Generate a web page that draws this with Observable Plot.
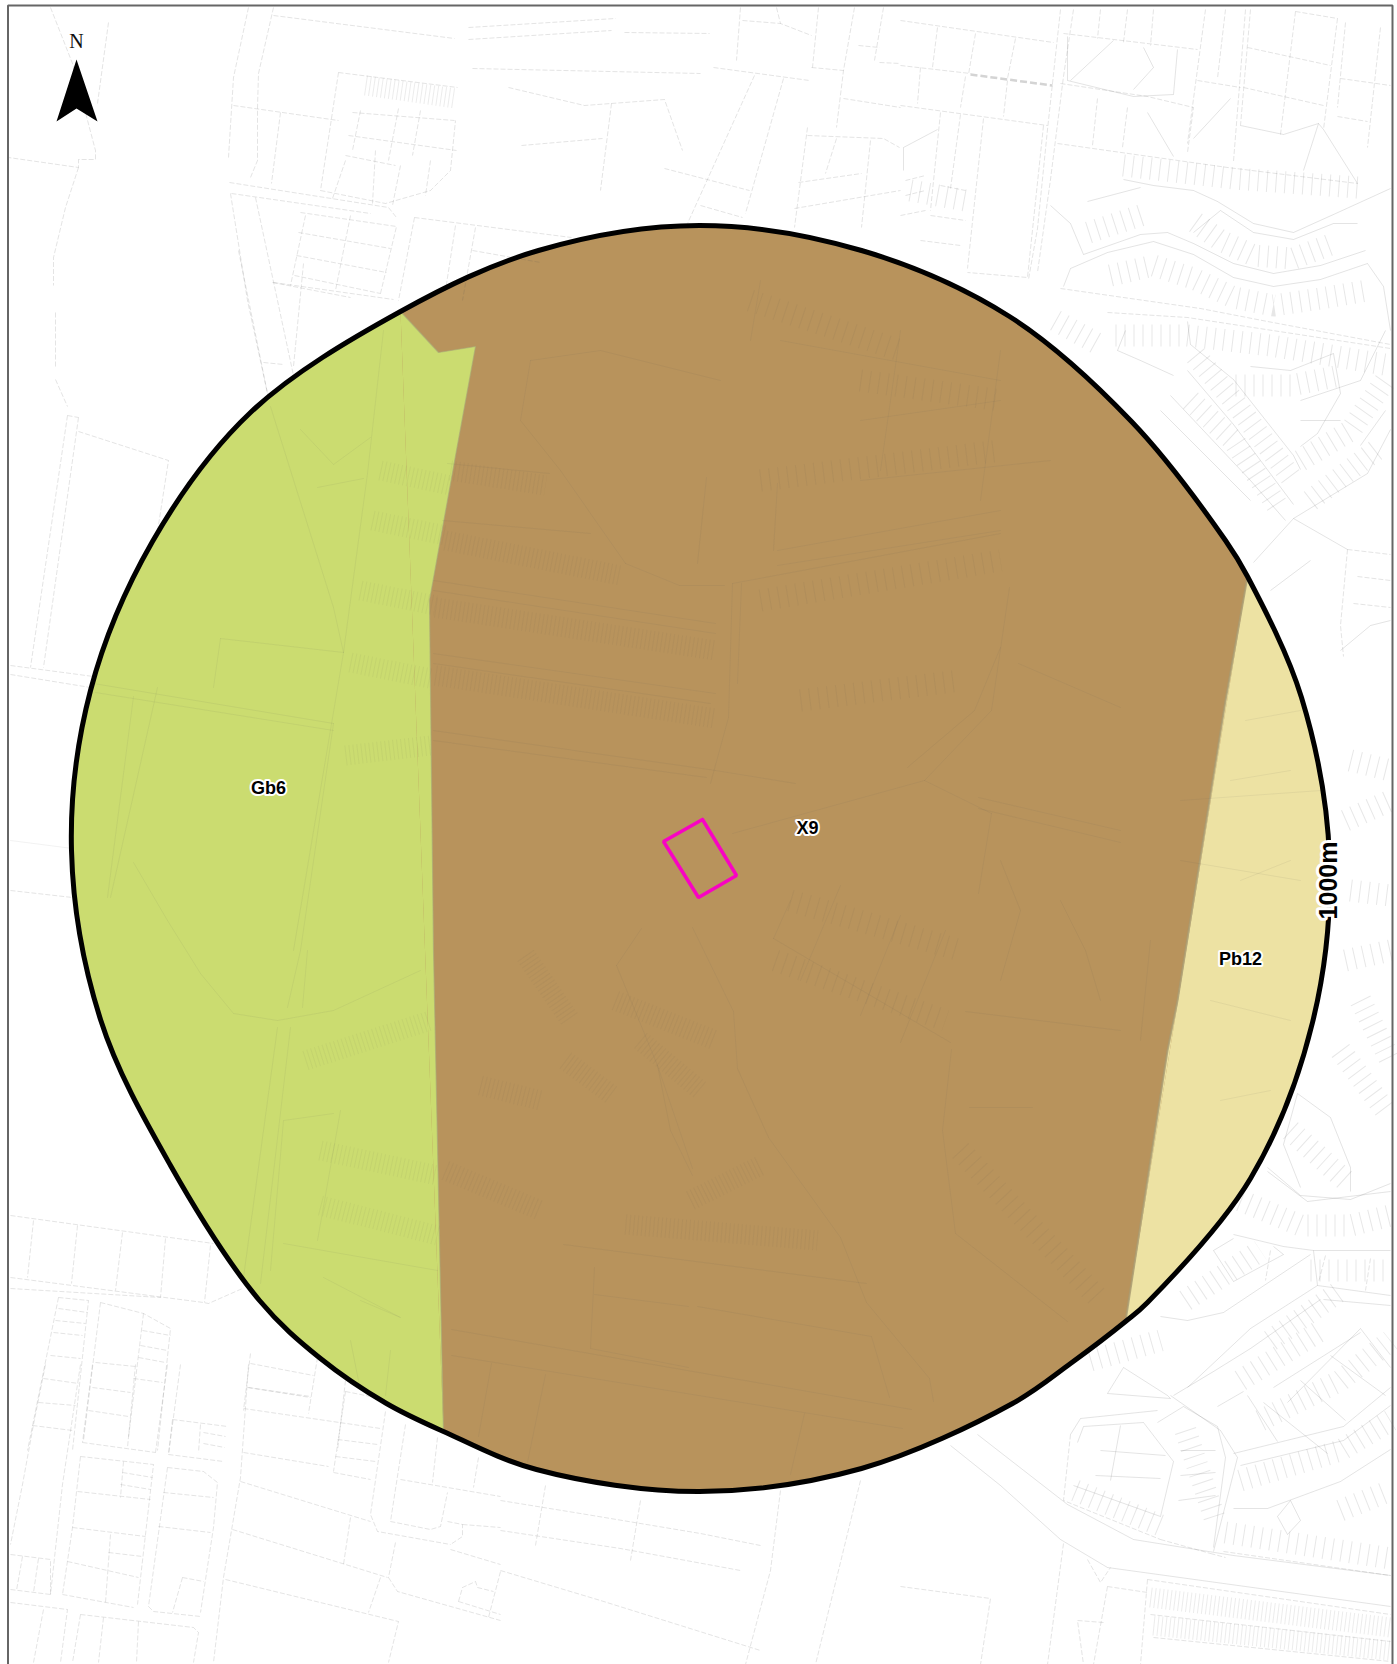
<!DOCTYPE html>
<html><head><meta charset="utf-8">
<script src="https://cdn.jsdelivr.net/npm/d3@7"></script>
<script src="https://cdn.jsdelivr.net/npm/@observablehq/plot@0.6"></script>
<style>html,body{margin:0;padding:0;background:#fff}svg{display:block;max-width:none}</style>
</head><body><div id="chart"></div>
<script>
// Radius ring, read clockwise from the top
const ring=[[699,225],[861,250],[1009,316],[1131,421],[1225,540],[1247,576],[1301,697],[1329,858],[1312,1022],[1250,1178],[1147,1302],[1125,1321],[1070,1363],[1012,1403],[861,1468],[699,1491],[536,1469],[443,1431],[386,1403],[320,1358],[259,1300],[170,1165],[100,1019],[71,850],[90,690],[152,541],[250,412],[400,311],[538,250]];
const arcGb6=[[443,1431],[386,1403],[320,1358],[259,1300],[170,1165],[100,1019],[71,850],[90,690],[152,541],[250,412],[400,311]];
const edgeGb6=[[400,311],[438,352],[475,346],[456,450],[429,600],[433,950],[443,1431]];
const arcPb12=[[1247,576],[1301,697],[1329,858],[1312,1022],[1250,1178],[1147,1302],[1125,1321]];
const edgePb12=[[1247,576],[1225,700],[1177,1000],[1167,1050],[1125,1321]];
const site=[[702,819],[663,841],[698,897],[736,875],[702,819]];
const northArrow=[[76,59],[97,121],[76,108],[56,121]];
const frameLines=[[[7.5,1664],[7.5,5],[1392,5],[1392,1664]]];
const zoneLabels=[{t:"Gb6",x:268,y:788},{t:"X9",x:807,y:828},{t:"Pb12",x:1240,y:959}];
const ringLabel=[{t:"1000m",x:1328,y:880}];
const northLabel=[{t:"N",x:76,y:41}];
const thickPath=[[[970,74],[1052,85]]];

// Road and parcel lines, dashed cadastre
const dashedNW=[
[[50,7],[72,63],[95,150],[95,159],[78,159],[78,167],[8,157]],[[78,167],[65,207],[53,257],[53,285]],[[108,22],[97,103]],
[[248,7],[233,77],[228,157]],[[273,7],[258,73],[257,107],[257,160],[250,177]],[[273,15],[454,38]],[[233,105],[338,120]],[[280,112],[271,183]],
[[229,182],[388,207],[396,217]],[[231,193],[370,213]],[[230,193],[247,300],[267,393]],[[255,197],[277,300],[293,375]],[[273,282],[393,299]],
[[468,27],[615,18]],[[468,39],[611,30]],[[624,32],[709,33]],[[472,68],[700,73]],[[713,67],[809,80]],[[508,87],[584,105],[664,99],[682,150]],[[611,103],[600,190]],[[521,145],[602,138]],
[[414,217],[571,237]],[[754,75],[687,223]],[[783,78],[745,213]],[[664,168],[749,190]],[[700,205],[742,217]],[[740,7],[736,60]],[[776,7],[780,23],[811,35]],[[818,7],[812,67]],[[742,20],[780,23]],
[[854,7],[843,70],[836,127]],[[811,67],[843,70]],[[883,7],[874,60]],[[858,45],[879,47]],[[879,62],[900,63]],[[843,98],[900,107]],[[807,127],[794,227]],[[807,135],[883,138],[899,147]],[[870,140],[861,227]],[[836,138],[825,173]],[[798,182],[861,173]],[[794,208],[900,190]],
[[338,72],[457,87]],[[338,72],[320,190]],[[352,112],[454,120]],[[348,135],[456,150]],[[345,155],[395,165]],[[398,108],[388,160]],[[360,110],[352,150]],[[420,110],[412,155]],[[320,190],[385,203],[430,190],[450,170],[455,120]],[[345,160],[332,198]],[[375,150],[372,203]],[[400,165],[392,205]],[[430,160],[425,195]],
[[300,212],[396,226],[380,293]],[[298,232],[390,248]],[[296,255],[386,272]],[[294,275],[380,293]],[[305,215],[290,285]],[[350,215],[335,290]],[[272,282],[350,297]],
[[414,217],[398,300]],[[455,225],[445,290]],[[475,227],[462,300]],[[472,250],[540,262]],
[[55,312],[55,366]],[[55,379],[67,406]],[[67,415],[30,667]],[[78,417],[43,667]],[[67,415],[78,417]],[[78,431],[168,460],[157,531]],[[10,665],[93,676]],[[10,674],[90,687]],[[10,890],[72,897]],
[[238,250],[267,393]],[[303,263],[293,366]],[[263,362],[283,364]]];
const dashedNE=[
[[900,20],[1053,42]],[[900,65],[970,73]],[[937,27],[932,67]],[[975,33],[968,74]],[[1015,38],[1007,78]],[[920,67],[917,103]],[[965,76],[960,107]],[[1007,80],[1003,116]],[[900,105],[1047,125]],
[[940,112],[930,210]],[[960,114],[950,188]],[[983,118],[967,268]],[[1043,125],[1027,277],[967,272]],
[[1060,9],[1047,129],[1037,228],[1028,279]],[[1073,9],[1063,76],[1050,179],[1037,272]],
[[1063,33],[1197,49]],[[1100,9],[1097,38]],[[1127,9],[1123,42]],[[1153,9],[1150,45]],[[1205,9],[1187,143]],[[1225,9],[1217,78]],[[1245,9],[1233,161]],[[1250,9],[1240,125]],[[1197,80],[1240,87]],[[1295,11],[1337,18]],[[1247,47],[1330,65]],[[1243,87],[1323,105]],[[1295,11],[1280,134]],[[1337,18],[1323,129]],[[1345,22],[1337,107]],[[1380,27],[1367,147]],[[1340,78],[1390,85]],[[1337,116],[1367,121]],
[[1060,83],[1147,96],[1193,107],[1187,152]],[[1057,143],[1227,167],[1357,183]],[[1097,98],[1092,145]],[[1127,107],[1122,147]],
[[1060,288],[1200,308],[1267,321],[1390,344]],[[1107,312],[1187,317],[1390,348]],[[1347,549],[1390,554]],[[1357,576],[1390,580]],[[1353,603],[1390,607]],[[1347,549],[1340,625],[1343,656]],
[[905,180],[925,175]],[[905,195],[925,190]],[[900,215],[925,210]],[[940,185],[965,190]],[[930,215],[965,220]],[[920,240],[960,245]]];
const solidNE=[
[[1067,36],[1067,80],[1133,96],[1173,94],[1177,49]],[[1113,40],[1070,80]],[[1143,47],[1153,67],[1133,89]],[[937,129],[903,147],[903,170]],[[1147,112],[1173,156]],[[1193,138],[1230,98]],
[[1240,125],[1283,134],[1318,123],[1323,129],[1357,183]],[[1318,123],[1303,170]],
[[1123,179],[1153,185],[1193,190],[1217,201],[1253,223],[1293,232],[1333,214],[1390,188]],[[1050,205],[1070,223],[1083,254]],[[1087,201],[1140,187]],
[[1063,286],[1070,268],[1107,252],[1153,241],[1193,254],[1233,277],[1273,286],[1320,279],[1367,263],[1383,286],[1390,330]],
[[1083,254],[1140,234],[1167,232],[1193,243],[1233,263],[1273,273],[1320,265],[1365,250]],
[[1193,232],[1220,210],[1253,232],[1293,239],[1333,223],[1357,223]],
[[1187,321],[1190,344],[1233,379],[1293,455],[1300,469]],[[1187,370],[1233,424],[1293,504]],
[[1250,366],[1290,370],[1333,353],[1340,393],[1317,433],[1300,446]],[[1293,518],[1367,473],[1390,429]],[[1293,518],[1253,562]],[[1293,518],[1347,549]],
[[1125,330],[1117,350],[1140,360],[1173,375]],[[1160,410],[1220,470],[1250,500]],[[1170,395],[1250,480],[1285,520]],[[1300,400],[1360,380],[1385,330]],[[1360,445],[1385,410]],[[1300,420],[1340,420]],
[[1270,590],[1310,560]],[[1340,650],[1370,625],[1390,620]]];
const dashedSW=[
[[10,1215],[213,1243]],[[10,1277],[203,1302],[208,1303],[242,1288]],[[10,1288],[160,1297]],[[33,1220],[27,1277]],[[77,1225],[71,1283]],[[122,1232],[115,1290]],[[165,1238],[160,1297]],[[210,1245],[204,1302]],
[[58,1297],[88,1300],[72,1450]],[[58,1297],[27,1450]],[[58,1308],[87,1312]],[[55,1320],[85,1323]],[[53,1332],[82,1335]],[[50,1355],[80,1358]],[[43,1378],[78,1383]],[[38,1402],[75,1405]],[[32,1425],[72,1430]],
[[100,1302],[83,1440]],[[100,1302],[143,1313],[170,1328],[157,1450]],[[143,1313],[128,1437]],[[95,1362],[135,1366]],[[92,1387],[130,1392]],[[88,1410],[128,1416]],[[142,1330],[170,1335]],[[140,1345],[167,1350]],[[138,1357],[165,1362]],[[133,1378],[162,1382]],
[[250,1353],[243,1410]],[[250,1363],[313,1375]],[[247,1387],[310,1397]],[[243,1408],[380,1428]],[[317,1357],[308,1413]],[[345,1380],[337,1450]],[[345,1391],[385,1399]],
[[45,1364],[33,1424],[22,1484],[10,1544]],[[80,1364],[62,1484],[50,1594]],[[92,1364],[82,1442]],[[80,1456],[72,1527],[62,1594]],[[135,1364],[127,1447]],[[167,1364],[155,1452]],[[180,1364],[168,1454]],[[248,1364],[240,1477],[223,1577],[213,1662]],
[[82,1442],[155,1452]],[[80,1456],[153,1464],[137,1604]],[[168,1454],[223,1461]],[[172,1419],[227,1426]],[[172,1419],[168,1454]],[[200,1424],[198,1452]],[[203,1432],[225,1436]],[[203,1443],[224,1447]],
[[167,1467],[203,1471],[217,1482],[213,1527],[200,1612]],[[167,1467],[148,1606],[153,1611],[200,1616]],[[62,1594],[133,1607]],[[77,1491],[150,1499]],[[72,1527],[145,1536]],[[67,1561],[138,1577]],[[123,1461],[120,1497]],[[122,1472],[152,1477]],[[120,1484],[150,1489]],
[[110,1534],[105,1602]],[[108,1552],[142,1556]],[[163,1492],[213,1497]],[[158,1526],[210,1532]],[[182,1577],[172,1612]],[[182,1577],[203,1581]],
[[10,1554],[50,1559],[50,1594]],[[10,1589],[50,1594]],[[22,1556],[16,1590]],[[38,1558],[33,1592]],[[10,1602],[67,1609],[60,1662]],[[43,1609],[33,1662]],[[80,1614],[72,1662]],[[80,1614],[193,1627],[198,1632],[193,1662]],[[103,1617],[98,1662]],[[138,1621],[136,1662]],
[[248,1387],[310,1396]],[[243,1452],[328,1466]],[[333,1472],[370,1479]],[[345,1391],[333,1471]],[[337,1439],[377,1444]],[[335,1456],[375,1461]],[[385,1411],[370,1514],[377,1531],[450,1544]],[[405,1424],[390,1521],[430,1529],[440,1526],[447,1492]],[[400,1479],[500,1496]],[[437,1437],[432,1482]],[[478,1457],[473,1487]],[[447,1521],[462,1524],[462,1536],[450,1544]],[[462,1524],[500,1527]],[[240,1481],[370,1521]],[[232,1529],[387,1577]],[[350,1517],[343,1564]],[[395,1542],[388,1577]],[[388,1577],[397,1591],[500,1620]],[[450,1549],[500,1564]],[[380,1577],[368,1612]],[[225,1579],[398,1621],[388,1662]],
[[458,1601],[462,1587],[475,1581],[477,1587],[493,1591]],[[458,1601],[500,1614]],[[500,1571],[488,1617]],
[[500,1500],[580,1513],[700,1533],[760,1545]],[[500,1530],[620,1548],[740,1570]],[[500,1570],[600,1600],[760,1650]],[[545,1485],[535,1545]],[[640,1500],[630,1560]],[[780,1490],[770,1570],[745,1664]],[[860,1480],[815,1664]]];
const dashedSE=[
[[1063,1543],[1047,1664]],[[900,1586],[990,1598],[980,1664]],[[1087,1559],[1100,1582],[1110,1567]],[[1107,1586],[1093,1664]],[[1147,1579],[1140,1664]],[[1147,1579],[1390,1614]],[[1150,1614],[1390,1641]],[[1153,1637],[1390,1661]],[[1107,1586],[1147,1592]],[[1103,1622],[1077,1620],[1083,1664]],
[[1223,1551],[1390,1575]],[[1210,1553],[1225,1557]],[[1160,1539],[1210,1553]],[[1070,1434],[1063,1500],[1160,1539]],[[1270,1250],[1265,1280]],[[1325,1255],[1318,1282]],[[1370,1258],[1365,1290]]];
const solidSE=[
[[977,1434],[1067,1504],[1133,1539],[1233,1555],[1390,1575]],[[950,1445],[1000,1485],[1060,1539],[1107,1567],[1390,1606]],
[[1267,1167],[1300,1195],[1350,1199],[1390,1183]],[[1267,1171],[1307,1201],[1390,1191]],[[1297,1093],[1283,1144],[1300,1187]],[[1297,1093],[1330,1117],[1350,1167],[1350,1191]],
[[1233,1234],[1283,1246],[1313,1250],[1390,1250]],[[1313,1250],[1317,1285],[1390,1295]],[[1317,1285],[1250,1328],[1187,1387]],[[1320,1299],[1250,1348],[1213,1371],[1173,1395]],[[1323,1299],[1390,1305]],[[1310,1254],[1223,1312],[1187,1320],[1160,1316]],
[[1273,1246],[1283,1254],[1233,1281],[1213,1250],[1233,1238]],[[1123,1367],[1167,1395],[1170,1398],[1107,1393],[1123,1367]],[[1170,1395],[1220,1430],[1237,1457],[1223,1512],[1213,1551]],[[1157,1422],[1183,1406],[1217,1426],[1225,1457],[1213,1547]],
[[1070,1434],[1080,1418],[1157,1410]],[[1077,1442],[1083,1426],[1143,1422],[1173,1461],[1160,1516],[1073,1485]],
[[1233,1453],[1343,1426],[1390,1387]],[[1240,1465],[1343,1440],[1390,1405]],[[1233,1508],[1267,1508],[1340,1481],[1390,1449]],[[1277,1516],[1290,1500],[1300,1520],[1287,1534],[1277,1516]],
[[1287,1402],[1360,1328],[1390,1367]],[[1273,1387],[1360,1332]],[[1263,1402],[1327,1453]],[[1217,1406],[1243,1391]],[[1247,1395],[1277,1441]],[[1300,1380],[1345,1420]],[[1330,1355],[1385,1395]],
[[1180,1450],[1215,1450]],[[1180,1475],[1215,1472]],[[1178,1500],[1215,1495]],[[1100,1450],[1165,1455]],[[1095,1475],[1160,1478]],[[1120,1425],[1110,1480]]];
// Faint lines that show through the zones
const underZones=[
[[93,683],[333,723]],[[95,692],[333,730]],[[220,638],[343,652]],[[220,638],[213,687]],[[270,406],[333,607],[343,652]],[[317,487],[363,478]],[[300,429],[333,464],[370,437]],[[383,330],[367,473],[343,652],[293,950]],[[333,723],[300,950],[287,1007]],
[[157,687],[110,897]],[[133,696],[107,897]],[[133,862],[167,920],[200,973],[233,1013],[277,1020],[333,1010],[420,970]],[[307,950],[302,1007]],[[277,1027],[243,1277]],[[290,1027],[260,1283]],[[333,1113],[283,1120],[270,1270]],[[340,1110],[317,1240]],[[283,1243],[437,1270]],[[323,1277],[400,1317],[360,1300]],[[350,1340],[360,1390]],[[390,1350],[385,1395]],[[10,840],[72,848]],
[[447,463],[549,473]],[[442,520],[590,533]],[[433,580],[715,623]],[[433,590],[715,633]],[[433,653],[715,693]],[[433,663],[710,703]],[[433,730],[715,770],[795,783]],[[433,740],[706,777]],
[[625,563],[679,585],[724,585]],[[732,583],[728,717],[710,783]],[[741,583],[737,683]],[[1000,533],[732,583]],[[1009,587],[991,710],[924,780],[732,833]],[[1000,647],[974,710],[907,767]],[[1018,663],[1120,707]],[[978,797],[1120,830]],[[978,808],[1120,842]],[[924,780],[991,813]],[[991,813],[978,893]],
[[692,927],[733,1011],[737,1068],[768,1137],[840,1237],[866,1302],[929,1378],[933,1401]],[[616,965],[657,1065],[692,1168]],[[641,928],[616,965]],[[657,1065],[670,1130],[692,1175]],
[[965,1011],[1120,1030]],[[951,1049],[942,1130],[955,1233],[1067,1321]],[[969,1107],[1032,1107]],[[563,1244],[866,1283]],[[594,1267],[590,1348],[688,1367]],[[594,1294],[688,1306]],[[697,1306],[871,1336],[889,1397]],[[451,1329],[911,1409]],[[451,1355],[902,1428]],[[491,1363],[478,1436]],[[545,1374],[527,1462]],[[804,1413],[790,1474]],
[[777,550],[1000,510]],[[777,565],[1000,530]],[[706,477],[697,563]],[[777,483],[773,550]],[[860,420],[1000,400]],[[860,480],[1050,460]],[[530,360],[600,350],[720,380]],[[530,360],[520,420],[560,470],[625,563]],[[760,280],[750,340]],[[900,330],[880,470]],[[1000,350],[980,500]],[[780,340],[1000,380]],
[[773,938],[950,1042]],[[790,900],[773,938]],[[840,885],[800,980]],[[900,915],[860,1015]],[[945,930],[900,1042]],[[1000,860],[1020,910],[1000,980]],[[1060,900],[1085,950],[1100,1000]],[[1150,940],[1140,1040]],
[[1180,860],[1300,880]],[[1180,800],[1320,790]],[[1230,780],[1290,770]],[[1240,880],[1290,860]],[[1210,1000],[1290,1020]],[[1220,1100],[1270,1090]],[[1245,720],[1300,710]]];
const parcelRowsOutside=[
[[1088,232],[1143,214]],[[1195,222],[1220,240],[1253,255],[1293,258],[1333,243]],[[1110,275],[1153,265],[1193,278],[1233,297],[1273,305],[1320,298],[1367,290]],[[1123,165],[1233,178],[1357,187]],[[1115,335],[1187,335],[1270,345],[1390,365]],[[1195,355],[1233,400],[1293,480]],[[1235,385],[1290,385],[1340,375]],[[1190,400],[1233,440],[1280,510]],[[1300,460],[1350,430],[1385,380]],[[1310,500],[1375,450]],
[[910,190],[965,200]],[[1055,320],[1100,345]],
[[1240,1200],[1300,1225],[1350,1225],[1390,1215]],[[1290,1130],[1345,1180]],[[1240,1380],[1320,1330]],[[1260,1420],[1340,1380],[1390,1340]],[[1240,1480],[1340,1450],[1390,1420]],[[1075,1490],[1160,1525]],[[1185,1430],[1215,1520]],[[1225,1532],[1390,1558]],[[1185,1300],[1260,1250]],[[1270,1340],[1340,1290]],[[1310,1270],[1390,1270]],[[1090,1360],[1160,1340]],[[1340,1510],[1390,1490]],
[[1360,1000],[1390,1060]],[[1340,1050],[1385,1110]],[[1350,760],[1390,770]],[[1345,820],[1390,800]],[[1350,890],[1390,895]],[[1345,960],[1390,950]]];
const parcelRowsInside=[[[775,960],[945,1020]],[[790,900],[960,950]],[[960,1150],[1100,1300]],[[800,700],[960,680]],[[760,600],[1000,560]],[[760,480],[1000,450]],[[860,380],[1000,400]],[[750,300],[900,350]]];
const parcelRowsFineOutside=[[[365,85],[455,98]],[[1150,1597],[1390,1627]],[[1153,1625],[1390,1650]]];
const parcelRowsFineInside=[
[[380,470],[450,485]],[[372,520],[445,535]],[[360,590],[435,605]],[[350,662],[430,678]],[[450,470],[545,485]],[[445,540],[620,575]],[[435,607],[715,650]],[[435,675],[715,718]],
[[625,1224],[817,1240]],[[690,1200],[760,1165]],
[[525,955],[570,1020]],[[480,1085],[540,1100]],[[565,1060],[612,1095]],[[445,1170],[540,1210]],[[615,1000],[715,1040]],[[640,1040],[700,1090]],[[320,1150],[437,1175]],[[320,1205],[437,1235]],[[305,1060],[430,1020]],[[345,755],[430,745]]];

const rows=(list,tag)=>list.flatMap((pts,i)=>pts.map(([x,y])=>({x,y,id:tag+i})));
const poly=pts=>pts.map(([x,y])=>({x,y}));
const lineInk="#555";
const cadastre=(list,dash,tag)=>Plot.line(rows(list,tag),{x:"x",y:"y",z:"id",stroke:lineInk,strokeOpacity:0.2,strokeWidth:0.8,strokeDasharray:dash,strokeLinecap:"butt",curve:"linear"});
const hatch=(list,tag,width,dash,opacity)=>Plot.line(rows(list,tag),{x:"x",y:"y",z:"id",stroke:lineInk,strokeOpacity:opacity,strokeWidth:width,strokeDasharray:dash,strokeLinecap:"butt",strokeLinejoin:"bevel"});

const chart=Plot.plot({
  width:1397,height:1664,margin:0,style:{background:"#fff"},
  x:{domain:[0,1397],axis:null},
  y:{domain:[1664,0],axis:null},
  marks:[
    Plot.line(poly(ring),{x:"x",y:"y",fill:"#B8935C",stroke:"none",curve:"catmull-rom-closed"}),
    Plot.line(poly(arcGb6),{x:"x",y:"y",fill:"#CBDC70",stroke:"none",curve:"catmull-rom"}),
    Plot.line(poly(edgeGb6),{x:"x",y:"y",fill:"#CBDC70",stroke:"none"}),
    Plot.line(poly(arcPb12),{x:"x",y:"y",fill:"#EDE2A3",stroke:"none",curve:"catmull-rom"}),
    Plot.line(poly(edgePb12),{x:"x",y:"y",fill:"#EDE2A3",stroke:"none"}),
    Plot.line(poly(edgePb12),{x:"x",y:"y",stroke:"#A99B72",strokeWidth:2,strokeOpacity:0.8}),
    Plot.line(poly(edgeGb6),{x:"x",y:"y",stroke:"#A8A878",strokeWidth:1.2,strokeOpacity:0.6}),
    cadastre(dashedNW,"5 2","a"),cadastre(dashedNE,"5 2","b"),cadastre(solidNE,null,"c"),
    cadastre(dashedSW,"5 2","d"),cadastre(dashedSE,"5 2","e"),cadastre(solidSE,null,"f"),
    Plot.line(rows(underZones,"g"),{x:"x",y:"y",z:"id",stroke:lineInk,strokeOpacity:0.08,strokeWidth:1}),
    hatch(parcelRowsOutside,"h",22,"1 8",0.14),
    hatch(parcelRowsInside,"l",22,"1 8",0.07),
    hatch(parcelRowsFineOutside,"i",20,"1 3",0.11),
    hatch(parcelRowsFineInside,"m",20,"1 3",0.06),
    Plot.line(rows(thickPath,"j"),{x:"x",y:"y",z:"id",stroke:"#d4d4d4",strokeWidth:2.5,strokeDasharray:"7 3",strokeLinecap:"butt"}),
    Plot.line(poly(ring),{x:"x",y:"y",stroke:"#000",strokeWidth:5,curve:"catmull-rom-closed"}),
    Plot.line(poly(site),{x:"x",y:"y",stroke:"#F803C3",strokeWidth:3.5,strokeLinejoin:"miter"}),
    Plot.line(poly(northArrow),{x:"x",y:"y",fill:"#000",stroke:"none"}),
    Plot.line(rows(frameLines,"k"),{x:"x",y:"y",z:"id",stroke:"#666",strokeWidth:2,strokeLinecap:"butt",strokeLinejoin:"miter"}),
    Plot.text(northLabel,{x:"x",y:"y",text:"t",fontSize:20,fontFamily:"Liberation Serif",fill:"#111"}),
    Plot.text(zoneLabels,{x:"x",y:"y",text:"t",fontSize:18,fontWeight:"bold",fontFamily:"Liberation Sans",fill:"#000",stroke:"#fff",strokeWidth:4,paintOrder:"stroke"}),
    Plot.text(ringLabel,{x:"x",y:"y",text:"t",rotate:-90,fontSize:25,fontWeight:"bold",fontFamily:"Liberation Sans",fill:"#000",stroke:"#fff",strokeWidth:6,paintOrder:"stroke"})
  ]
});
document.getElementById("chart").appendChild(chart);
</script></body></html>
